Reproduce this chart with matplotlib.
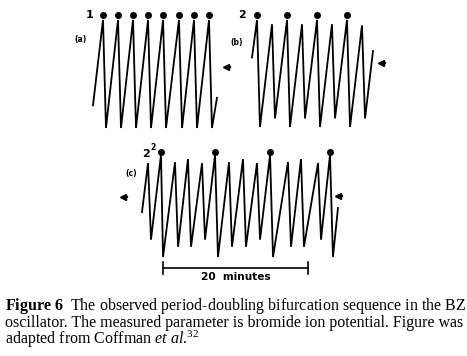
import numpy as np
import matplotlib
matplotlib.use("Agg")
import matplotlib.pyplot as plt

# --- data (time in minutes, potential in arbitrary units 0-100) ---
# (a) period 1
t_a = [0.00, 1.38, 1.79, 3.45, 3.86, 5.52, 5.93, 7.59, 8.00, 9.66, 10.07,
       11.86, 12.28, 13.93, 14.34, 16.00, 16.41, 17.10]
v_a = [21, 100, 0, 100, 0, 100, 0, 100, 0, 100, 0, 100, 0, 100, 0, 100, 0, 28]
dots_a = [1.38, 3.45, 5.52, 7.59, 9.66, 11.86, 13.93, 16.00]

# (b) period 2
t_b = [0.00, 0.69, 1.10, 2.76, 3.17, 4.83, 5.24, 6.90, 7.31, 8.97, 9.38,
       11.03, 11.45, 13.10, 13.52, 15.17, 15.59, 16.69]
v_b = [65, 100, 0, 96, 8, 100, 0, 96, 8, 100, 0, 96, 8, 100, 0, 95, 8, 71]
dots_b = [0.69, 4.83, 8.97, 13.10]

# (c) period 4
t_c = [0.00, 0.83, 1.24, 2.62, 2.90, 4.55, 4.97, 6.34, 6.76, 8.28, 8.69,
       10.07, 10.48, 12.00, 12.41, 13.93, 14.34, 15.86, 16.28, 17.66, 18.07,
       20.14, 20.55, 21.93, 22.34, 24.28, 24.69, 25.93, 26.34, 27.03]
v_c = [44, 92, 17, 100, 0, 93, 10, 96, 10, 92, 17, 100, 0, 93, 10, 96, 10,
       92, 17, 100, 0, 93, 10, 96, 10, 92, 17, 100, 0, 48]
dots_c = [2.62, 10.07, 17.66, 25.93]

scale_start = 2.90
scale_len = 20  # minutes

caption_lines = [
    r"$\mathbf{Figure\ 6}$  The observed period-doubling bifurcation sequence in the BZ",
    "oscillator. The measured parameter is bromide ion potential. Figure was",
    r"adapted from Coffman $\mathit{et\ al}$.$^{32}$",
]

W, H = 467, 356
PX_PER_MIN = 7.25

plt.rcParams['mathtext.fontset'] = 'custom'
plt.rcParams['mathtext.rm'] = 'Liberation Serif'
plt.rcParams['mathtext.it'] = 'Liberation Serif:italic'
plt.rcParams['mathtext.bf'] = 'Liberation Serif:bold'

fig = plt.figure(figsize=(W / 100, H / 100), dpi=100)


def panel(x0, ytop, ybot, width_min):
    ax = fig.add_axes([x0 / W, 1 - ybot / H, width_min * PX_PER_MIN / W, (ybot - ytop) / H])
    ax.set_xlim(0, width_min)
    ax.set_ylim(0, 100)
    ax.axis('off')
    return ax


def trace(ax, t, v, dots, dot_v):
    ax.plot(t, v, color='black', lw=1.3, solid_joinstyle='miter', clip_on=False)
    ax.plot(dots, [dot_v] * len(dots), 'o', color='black', ms=4, clip_on=False)


def arrow(ax, x, y):
    ax.plot([x, x + 0.6], [y, y], color='black', lw=1.6, clip_on=False)
    ax.plot([x], [y], marker='<', color='black', ms=4.5, clip_on=False)


lab = dict(fontweight='bold', family='DejaVu Sans', ha='center', va='center')

ax_a = panel(93, 20, 128, 17.1)
trace(ax_a, t_a, v_a, dots_a, 104.6)
ax_a.text(-0.45, 104.6, "1", fontsize=8, **lab)
ax_a.text(-1.66, 82, "(a)", fontsize=5.5, **lab)

ax_b = panel(252, 20, 127, 16.7)
trace(ax_b, t_b, v_b, dots_b, 104.7)
ax_b.text(-1.38, 104.7, "2", fontsize=8, **lab)
ax_b.text(-2.07, 79.4, "(b)", fontsize=5.5, **lab)
arrow(ax_b, -3.6, 56)
arrow(ax_b, 17.75, 60)

ax_c = panel(142, 155, 257, 27.03)
trace(ax_c, t_c, v_c, dots_c, 103)
ax_c.text(0.5, 101, "2", fontsize=8, **lab)
ax_c.text(1.55, 107, "2", fontsize=5.5, **lab)
ax_c.text(-1.52, 82, "(c)", fontsize=5.5, **lab)
arrow(ax_c, -2.65, 59)
arrow(ax_c, 27.0, 60)

# scale bar
sy = -10.8
ax_c.plot([scale_start, scale_start + scale_len], [sy, sy], color='black', lw=1.2, clip_on=False)
for xx in (scale_start, scale_start + scale_len):
    ax_c.plot([xx, xx], [sy - 6, sy + 6], color='black', lw=1.2, clip_on=False)
ax_c.text(scale_start + scale_len / 2, -20, "20  minutes", fontsize=7.6, **lab)

# caption
fig.text(5 / W, 1 - 296 / H, "\n".join(caption_lines), family='Liberation Serif',
         fontsize=11.5, va='top', ha='left', linespacing=0.88)

fig.savefig("out.png", dpi=100)
